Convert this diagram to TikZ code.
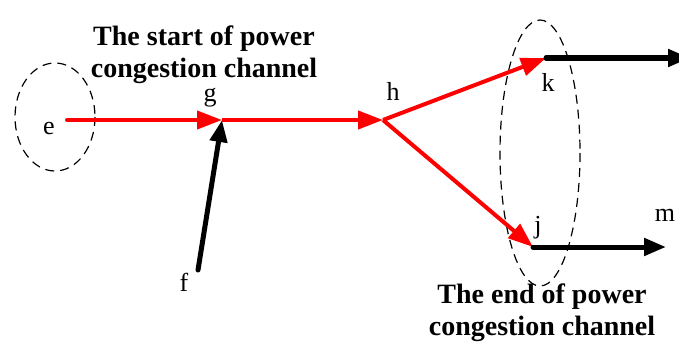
\documentclass[tikz,border=0pt]{standalone}
\usepackage{fontspec}
\setmainfont{Liberation Serif}
\usetikzlibrary{arrows.meta}

\tikzset{
    flow/.style={red, line width=4pt, -{Triangle[length=25pt, width=18pt]}},
    feed/.style={black, line width=5pt, line cap=round, -{Triangle[length=22pt, width=17pt]}},
    area/.style={line width=1.2pt, dash pattern=on 9pt off 6pt},
    busname/.style={font=\fontsize{26}{28}\selectfont, inner sep=0pt},
    caption/.style={font=\fontsize{28}{32}\selectfont\bfseries, align=center, inner sep=0pt}
}

\begin{document}
\begin{tikzpicture}[x=1pt, y=-1pt]
    \useasboundingbox (0,0) rectangle (679,345);

    % Buses
    \coordinate (e) at (67,120);
    \coordinate (g) at (222,120);
    \coordinate (f) at (198,270);
    \coordinate (h) at (383,120);
    \coordinate (k) at (546,58);
    \coordinate (j) at (533,247);
    \coordinate (kout) at (690,58);
    \coordinate (mout) at (666,247);

    % Dashed areas
    \draw[area] (55,117) ellipse [x radius=40, y radius=54];
    \draw[area] (540,153) ellipse [x radius=40, y radius=133];

    % Congestion channel
    \draw[flow, line cap=round] (e) -- (g);
    \draw[flow] (g) -- (h);
    \draw[flow] (h) -- (k);
    \draw[flow] (h) -- (j);

    % Other branches
    \draw[feed] (f) -- (g);
    \draw[feed] (k) -- (kout);
    \draw[feed] (j) -- (mout);

    % Bus labels
    \node[busname] (le) at (49,128) {e};
    \node[busname] (lg) at (210,98) {g};
    \node[busname] (lf) at (184,282) {f};
    \node[busname] (lh) at (393,91) {h};
    \node[busname] (lk) at (548,82) {k};
    \node[busname] (lj) at (538,228) {j};
    \node[busname] (lm) at (665,215) {m};
    \node[busname] (ll) at (682,22) {\itshape l};

    % Captions
    \node[caption] (start) at (204,55) {The start of power\\congestion channel};
    \node[caption] (end) at (542,313) {The end of power\\congestion channel};

\end{tikzpicture}
\end{document}
